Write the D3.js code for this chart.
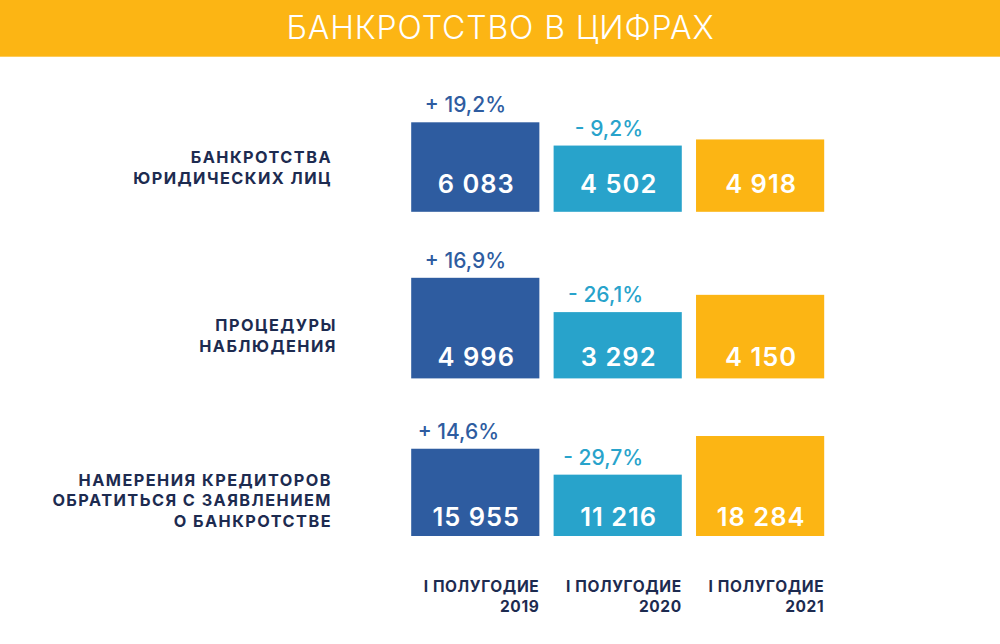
<!DOCTYPE html>
<html><head><meta charset="utf-8">
<script src="https://cdn.jsdelivr.net/npm/d3@7"></script>
<style>
html,body{margin:0;padding:0;background:#fff;}
svg{display:block;}
text{font-family:"Inter","Noto Sans",sans-serif;}
</style></head>
<body>
<svg id="chart" width="1000" height="644"></svg>
<script>
// ---- data ----
const title = "БАНКРОТСТВО В ЦИФРАХ";
const groupLabels = [
  ["БАНКРОТСТВА", "ЮРИДИЧЕСКИХ ЛИЦ"],
  ["ПРОЦЕДУРЫ", "НАБЛЮДЕНИЯ"],
  ["НАМЕРЕНИЯ КРЕДИТОРОВ", "ОБРАТИТЬСЯ С ЗАЯВЛЕНИЕМ", "О БАНКРОТСТВЕ"]
];
const periods = ["2019", "2020", "2021"];
const periodPrefix = "I ПОЛУГОДИЕ";
const values2019 = [6083, 4996, 15955];
const values2020 = [4502, 3292, 11216];
const values2021 = [4918, 4150, 18284];
const change2019 = ["+ 19,2%", "+ 16,9%", "+ 14,6%"];
const change2020 = ["- 9,2%", "- 26,1%", "- 29,7%"];

// ---- layout ----
const colors = ["#2E5CA0", "#28A3CB", "#FCB514"];
const changeColors = ["#2E5CA0", "#28A3CB"];
const navy = "#1D2B50";
const groupBase = [211.8, 378.4, 536];
const groupMaxH = [89.5, 100.6, 100];
const valueOffset = [18.5, 12.5, 10];
const labelRight = [332, 337, 332];
const labelBaselines = [[162.7, 183.5], [331, 352], [485.5, 506, 526.7]];
const pctRight = [[506, 643], [506, 643], [499, 643]];

const svg = d3.select("#chart");
const fmt = d3.formatLocale({decimal: ",", thousands: " ", grouping: [3], currency: ["", ""]}).format(",d");

// banner
svg.append("rect").attr("x", 0).attr("y", 0).attr("width", 1000).attr("height", 56.7).attr("fill", "#FCB514");
svg.append("text").attr("x", 500.5).attr("y", 39.3).attr("text-anchor", "middle")
  .attr("fill", "#fff").attr("font-size", 32).attr("font-weight", 300)
  .attr("letter-spacing", 0.9).text(title);

const x = d3.scaleBand().domain(periods).range([411.2, 824.2]).paddingInner(0.1).paddingOuter(0);

const series = [values2019, values2020, values2021];
const changes = [change2019, change2020];

groupLabels.forEach((lines, g) => {
  const maxV = d3.max(series, s => s[g]);
  const y = d3.scaleLinear().domain([0, maxV]).range([groupBase[g], groupBase[g] - groupMaxH[g]]);
  const gg = svg.append("g");
  const rows = periods.map((p, i) => ({p, v: series[i][g], i}));
  gg.selectAll("rect").data(rows).join("rect")
    .attr("x", d => x(d.p)).attr("width", x.bandwidth())
    .attr("y", d => y(d.v)).attr("height", d => y(0) - y(d.v))
    .attr("fill", d => colors[d.i]);
  gg.selectAll("text.val").data(rows).join("text").attr("class", "val")
    .attr("x", d => x(d.p) + x.bandwidth() / 2 + 1)
    .attr("y", groupBase[g] - valueOffset[g])
    .attr("text-anchor", "middle").attr("fill", "#fff")
    .attr("font-size", 25.5).attr("font-weight", 600).attr("letter-spacing", 1)
    .text(d => fmt(d.v));
  gg.selectAll("text.pct").data(rows.slice(0, 2)).join("text").attr("class", "pct")
    .attr("x", d => pctRight[g][d.i])
    .attr("y", d => y(d.v) - 10)
    .attr("text-anchor", "end").attr("fill", d => changeColors[d.i])
    .attr("font-size", 21).attr("font-weight", 500)
    .text(d => changes[d.i][g]);
  const lab = gg.append("text").attr("text-anchor", "end").attr("fill", navy)
    .attr("font-size", 16.3).attr("font-weight", 700).attr("letter-spacing", 1.45);
  lines.forEach((l, k) => lab.append("tspan").attr("x", labelRight[g]).attr("y", labelBaselines[g][k]).text(l));
});

// period labels
const pl = svg.append("g").selectAll("text").data(periods).join("text")
  .attr("text-anchor", "end").attr("fill", navy)
  .attr("font-size", 15.5).attr("font-weight", 700).attr("letter-spacing", 0.6);
pl.append("tspan").attr("x", d => x(d) + x.bandwidth()).attr("y", 592).text(periodPrefix);
pl.append("tspan").attr("x", d => x(d) + x.bandwidth()).attr("y", 611.5).text(d => d);
</script>
</body></html>
